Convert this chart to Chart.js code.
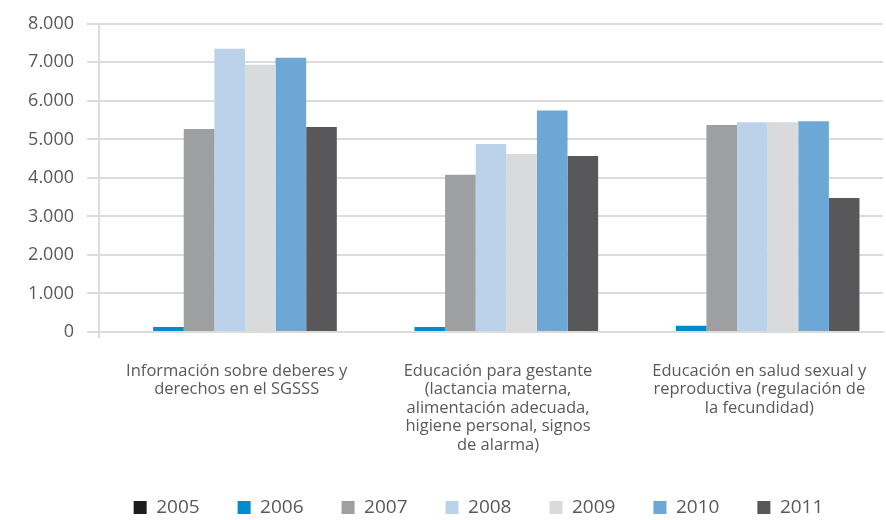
<!DOCTYPE html>
<html>
<head>
<meta charset="utf-8">
<script src="https://cdn.jsdelivr.net/npm/chart.js@4"></script>
<style>
  html, body { margin: 0; padding: 0; background: #ffffff; }
  #wrap { width: 886px; height: 520px; }
</style>
</head>
<body>
<div id="wrap"><canvas id="chart" width="886" height="520"></canvas></div>
<script>
// Actividades (etiquetas del eje X en varias líneas)
const categories = [
  ["Información sobre deberes y", "derechos en el SGSSS"],
  ["Educación para gestante", "(lactancia materna,", "alimentación adecuada,", "higiene personal, signos", "de alarma)"],
  ["Educación en salud sexual y", "reproductiva (regulación de", "la fecundidad)"]
];

const years = ["2005", "2006", "2007", "2008", "2009", "2010", "2011"];

// Valores por año, uno por actividad
const v2005 = [0, 0, 0];
const v2006 = [130, 130, 160];
const v2007 = [5270, 4080, 5370];
const v2008 = [7350, 4880, 5445];
const v2009 = [6940, 4620, 5445];
const v2010 = [7120, 5750, 5470];
const v2011 = [5320, 4570, 3480];

const yTicks = [0, 1000, 2000, 3000, 4000, 5000, 6000, 7000, 8000];

const colors = ["#1d1d1b", "#008bca", "#9e9fa1", "#bcd2ea", "#d9dadc", "#6ca7d6", "#58585a"];
const seriesValues = [v2005, v2006, v2007, v2008, v2009, v2010, v2011];

const textColor = "#58595b";
const gridColor = "#dcdcdc";

const fmt = v => String(v).replace(/\B(?=(\d{3})+(?!\d))/g, ".");

// Desplaza la leyenda hacia la derecha, centrada bajo el área de barras
const legendShift = {
  id: "legendShift",
  afterLayout(chart) {
    const lg = chart.legend;
    if (lg) { lg.left += 37; lg.right += 37; }
  }
};

new Chart(document.getElementById("chart"), {
  type: "bar",
  data: {
    labels: categories,
    datasets: years.map((y, i) => ({
      label: y,
      data: seriesValues[i],
      backgroundColor: colors[i],
      borderWidth: 0,
      barPercentage: 1,
      categoryPercentage: 0.82
    }))
  },
  plugins: [legendShift],
  options: {
    responsive: false,
    animation: false,
    layout: { padding: { top: 22, right: 3, left: 0, bottom: 0 } },
    plugins: {
      tooltip: { enabled: false },
      legend: {
        position: "bottom",
        maxHeight: 60,
        labels: {
          boxWidth: 13,
          boxHeight: 13,
          padding: 38,
          color: textColor,
          font: { family: "'Open Sans'", size: 19 }
        }
      }
    },
    scales: {
      x: {
        afterFit: s => { s.height = 128; },
        border: { display: true, color: gridColor, width: 2 },
        grid: {
          drawOnChartArea: false,
          tickLength: 6,
          lineWidth: 2,
          color: ctx => (ctx.index === 0 ? gridColor : "rgba(0,0,0,0)")
        },
        ticks: {
          color: textColor,
          font: { family: "'Open Sans'", size: 16.5, lineHeight: 1.12 },
          padding: 24,
          labelOffset: 7,
          maxRotation: 0,
          autoSkip: false
        }
      },
      y: {
        min: 0,
        max: 8000,
        afterFit: s => { s.width = 99; },
        afterBuildTicks: s => { s.ticks = yTicks.map(v => ({ value: v })); },
        border: { display: true, color: gridColor, width: 2 },
        grid: { color: gridColor, lineWidth: 2, tickLength: 12 },
        ticks: {
          color: textColor,
          font: { family: "'Open Sans'", size: 18 },
          padding: 13,
          callback: v => fmt(v)
        }
      }
    }
  }
});
</script>
</body>
</html>
